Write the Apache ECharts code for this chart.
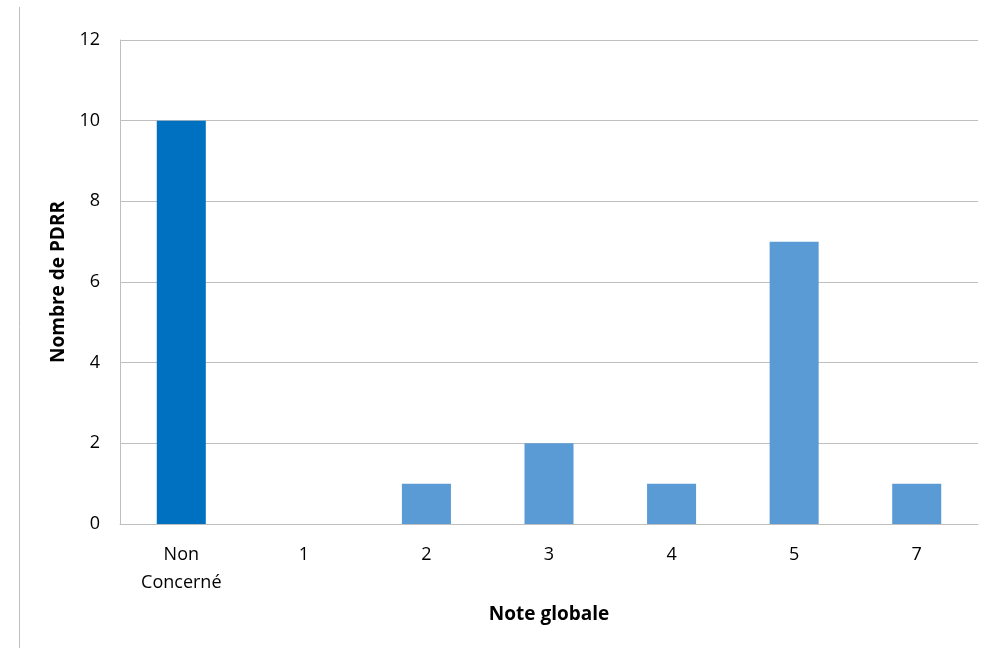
<!DOCTYPE html>
<html>
<head>
<meta charset="utf-8">
<script src="https://cdn.jsdelivr.net/npm/echarts@6/dist/echarts.min.js"></script>
<style>
  html, body { margin: 0; padding: 0; background: #fff; }
  #chart { width: 990px; height: 648px; }
</style>
</head>
<body>
<div id="chart"></div>
<script>
// Number of PDRR per global score
const categories = ['Non\nConcerné', '1', '2', '3', '4', '5', '7'];
const counts = [10, 0, 1, 2, 1, 7, 1];
const yTicks = { min: 0, max: 12, interval: 2 };

const darkBlue = '#0070c0';
const lightBlue = '#5b9bd5';
const fontFamily = '"Open Sans", "Noto Sans", sans-serif';

const chart = echarts.init(document.getElementById('chart'));
chart.setOption({
  animation: false,
  backgroundColor: '#fff',
  grid: { left: 120, right: 12, top: 40, bottom: 124 },
  graphic: [{
    type: 'line',
    shape: { x1: 19.5, y1: 7, x2: 19.5, y2: 648 },
    style: { stroke: '#bfbfbf', lineWidth: 1 }
  }],
  xAxis: {
    type: 'category',
    data: categories,
    name: 'Note globale',
    nameLocation: 'middle',
    nameGap: 81,
    nameTextStyle: { fontFamily, fontSize: 19, fontWeight: 'bold', color: '#000' },
    axisLine: { show: true, lineStyle: { color: '#bfbfbf' } },
    axisTick: { show: false },
    axisLabel: { fontFamily, fontSize: 18, color: '#000', margin: 17, lineHeight: 28, interval: 0 }
  },
  yAxis: {
    type: 'value',
    min: yTicks.min,
    max: yTicks.max,
    interval: yTicks.interval,
    name: 'Nombre de PDRR',
    nameLocation: 'middle',
    nameGap: 52,
    nameTextStyle: { fontFamily, fontSize: 19, fontWeight: 'bold', color: '#000' },
    axisLine: { show: true, lineStyle: { color: '#bfbfbf' } },
    axisTick: { show: false },
    axisLabel: { fontFamily, fontSize: 18, color: '#000', margin: 20 },
    splitLine: { lineStyle: { color: '#bfbfbf' } }
  },
  series: [{
    type: 'bar',
    data: counts.map((v, i) => ({
      value: v,
      itemStyle: { color: i === 0 ? darkBlue : lightBlue }
    })),
    barWidth: '40%'
  }]
});
</script>
</body>
</html>
